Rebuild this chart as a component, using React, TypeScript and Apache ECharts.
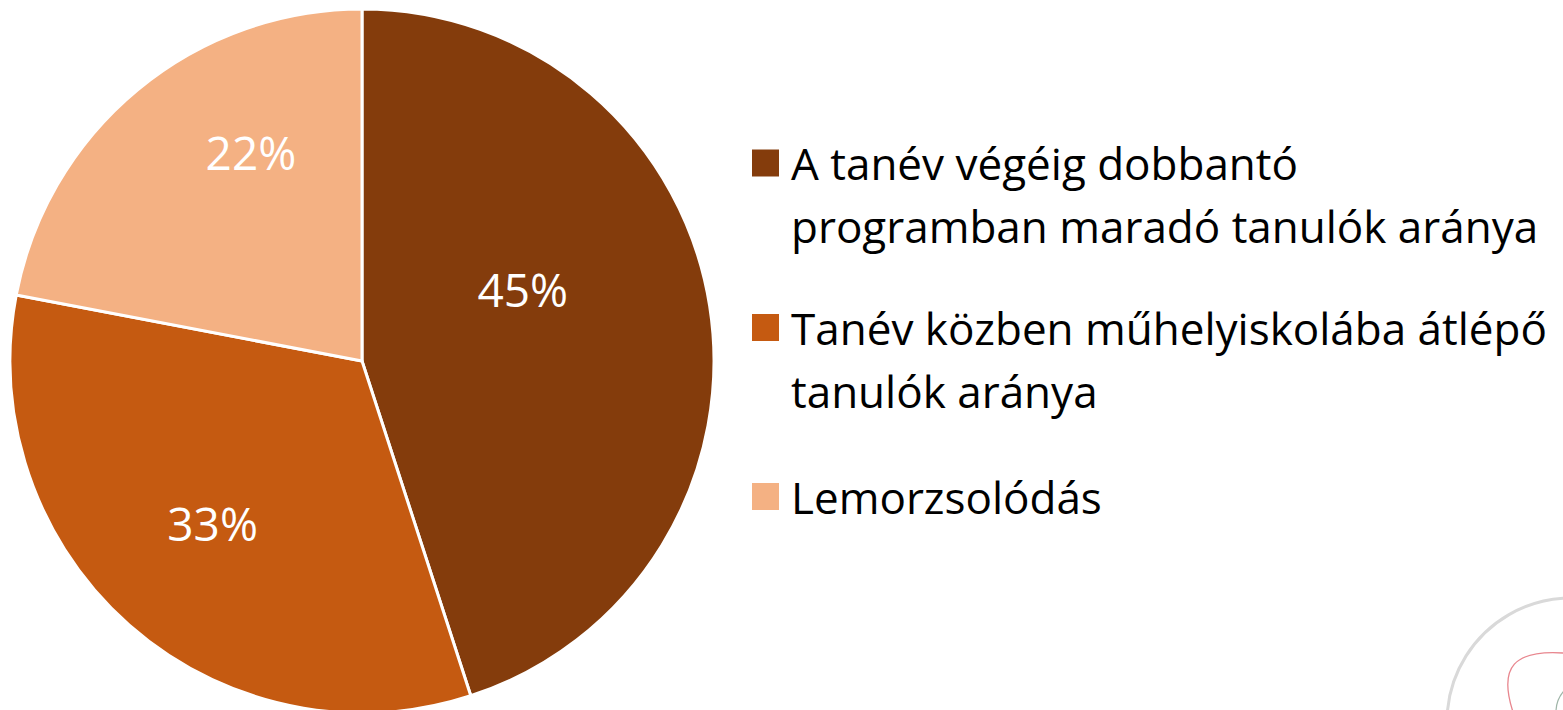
import React, { useEffect, useRef } from "react";
import * as echarts from "echarts";

const categories = [
  "A tanév végéig dobbantó programban maradó tanulók aránya",
  "Tanév közben műhelyiskolába átlépő tanulók aránya",
  "Lemorzsolódás",
];
const legendLines = [
  ["A tanév végéig dobbantó", "programban maradó tanulók aránya"],
  ["Tanév közben műhelyiskolába átlépő", "tanulók aránya"],
  ["Lemorzsolódás"],
];
const values = [45, 33, 22];
const colors = ["#843C0C", "#C55A11", "#F4B183"];

const FONT = "'Open Sans', sans-serif";
const LINE_H = 63;
const legendTops = [68.5, 233, 465];
const labelOffsets = [
  [-16, -44],
  [-31, 28],
  [3, -71],
];

export default function App() {
  const ref = useRef<HTMLDivElement>(null);
  useEffect(() => {
    if (!ref.current) return;
    const chart = echarts.init(ref.current, undefined, { renderer: "svg" });
    chart.setOption({
      animation: false,
      backgroundColor: "#ffffff",
      color: colors,
      legend: categories.map((name, i) => ({
        data: [name],
        orient: "vertical",
        left: 750,
        top: legendTops[i],
        padding: 0,
        itemWidth: 29,
        itemHeight: 29,
        itemGap: 0,
        icon: "rect",
        selectedMode: false,
        // a leading blank line keeps the first text line level with the marker
        formatter: () =>
          (legendLines[i].length > 1 ? "\n" : "") + legendLines[i].join("\n"),
        textStyle: {
          fontFamily: FONT,
          fontSize: 44,
          color: "#000000",
          lineHeight: LINE_H,
          padding: [0, 0, 0, 6],
        },
      })),
      series: [
        {
          type: "pie",
          center: [362, 361],
          radius: 352,
          startAngle: 90,
          clockwise: true,
          itemStyle: { borderColor: "#ffffff", borderWidth: 3 },
          label: {
            show: true,
            position: "inside",
            formatter: "{c}%",
            color: "#ffffff",
            fontFamily: FONT,
            fontSize: 46,
          },
          labelLine: { show: false },
          labelLayout: (p: any) => ({
            dx: labelOffsets[p.dataIndex][0],
            dy: labelOffsets[p.dataIndex][1],
          }),
          emphasis: { disabled: true },
          data: categories.map((name, i) => ({ name, value: values[i] })),
        },
      ],
      graphic: [
        {
          type: "circle",
          silent: true,
          shape: { cx: 1571, cy: 722, r: 124 },
          style: { fill: "none", stroke: "#d9d9d9", lineWidth: 3 },
        },
        {
          type: "bezierCurve",
          silent: true,
          shape: { x1: 1513, y1: 712, cpx1: 1498, cpy1: 666, cpx2: 1515, cpy2: 650, x2: 1563, y2: 653 },
          style: { fill: "none", stroke: "#e8868e", lineWidth: 1.3 },
        },
        {
          type: "arc",
          silent: true,
          shape: { cx: 1588, cy: 712, r: 32, startAngle: Math.PI, endAngle: Math.PI * 1.25 },
          style: { fill: "none", stroke: "#9fb5a8", lineWidth: 1.2 },
        },
      ],
    });
    return () => chart.dispose();
  }, []);
  return (
    <div
      ref={ref}
      style={{ position: "fixed", left: 0, top: 0, width: 1563, height: 710 }}
    />
  );
}
